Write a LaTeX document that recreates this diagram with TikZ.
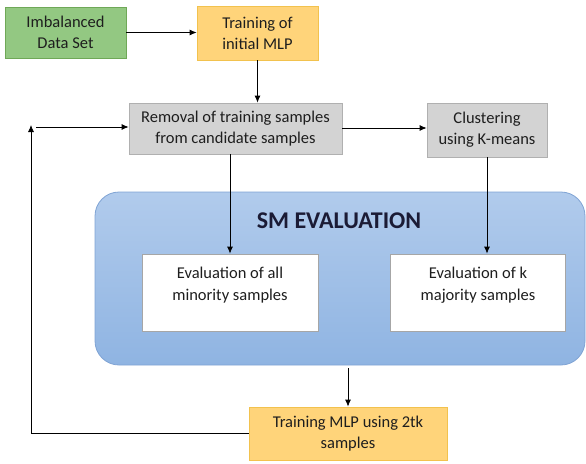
\documentclass[tikz,border=0pt]{standalone}
\usepackage{fontspec}
\setmainfont{Carlito}
\usetikzlibrary{arrows.meta}
\definecolor{grfill}{HTML}{93C882}
\definecolor{grdraw}{HTML}{6FA857}
\definecolor{orfill}{HTML}{FFD47A}
\definecolor{ordraw}{HTML}{F2C24E}
\definecolor{gyfill}{HTML}{D3D3D3}
\definecolor{gydraw}{HTML}{B0B0B0}
\definecolor{bltop}{HTML}{B1CBEC}
\definecolor{blbot}{HTML}{8FB4E2}
\definecolor{bldraw}{HTML}{7FA3D4}
\definecolor{txt}{HTML}{1E1E1E}
\tikzset{
  box/.style={rectangle, draw, line width=0.8pt, align=center, inner sep=0pt,
    text=txt, font=\fontsize{16.5}{21}\selectfont},
  greenbox/.style={box, fill=grfill, draw=grdraw},
  orangebox/.style={box, fill=orfill, draw=ordraw},
  graybox/.style={box, fill=gyfill, draw=gydraw},
  whitebox/.style={box, fill=white, draw=gray!70},
  conn/.style={line width=0.8pt, draw=black},
  arr/.style={conn, -{Latex[length=7pt,width=6pt]}},
  txtnode/.style={align=center, inner sep=0pt, text=txt, font=\fontsize{16.5}{22}\selectfont}
}
\begin{document}
\begin{tikzpicture}[x=1pt,y=-1pt]
\useasboundingbox (0,0) rectangle (586,463);
% SM evaluation container
\node[rectangle, rounded corners=24pt, minimum width=490pt, minimum height=173pt,
  top color=bltop, bottom color=blbot, draw=bldraw, line width=0.8pt, inner sep=0pt] (sm) at (340,278.5) {};
\node[font=\fontsize{24}{27}\bfseries\selectfont, text=txt!90!blue, inner sep=0pt] (smt) at (339,221) {SM EVALUATION};
% boxes
\node[greenbox, minimum width=121pt, minimum height=51pt] (imb) at (65.5,32.5) {Imbalanced\\Data Set};
\node[orangebox, minimum width=121pt, minimum height=54pt] (tri) at (257.5,33) {Training of\\initial MLP};
\node[graybox, minimum width=213pt, minimum height=51pt] (rem) at (235.5,128.5) {Removal of training samples\\from candidate samples};
\node[graybox, minimum width=120pt, minimum height=54pt] (clu) at (487,130) {Clustering\\using K-means};
\node[whitebox, minimum width=176pt, minimum height=77pt] (ev1) at (230,292.5) {};
\node[txtnode] (ev1t) at (230,285) {Evaluation of all\\minority samples};
\node[whitebox, minimum width=175pt, minimum height=77pt] (ev2) at (478,292.5) {};
\node[txtnode] (ev2t) at (478,285) {Evaluation of k\\majority samples};
\node[orangebox, minimum width=198pt, minimum height=53pt] (tr2) at (348,433.5) {Training MLP using 2tk\\samples};
% connectors
\coordinate (lb) at (31,433);
\coordinate (lt) at (31,125);
\coordinate (ls) at (36,127);
\draw[arr] (imb.east) -- (tri.west |- imb.east);
\draw[arr] (tri.south) -- (tri.south |- rem.north);
\draw[arr] (rem.east |- 0,128) -- (clu.west |- 0,128);
\draw[arr] (ev1.north |- rem.south) -- (ev1.north);
\draw[arr] (clu.south) -- (clu.south |- ev2.north);
\draw[arr] (tr2.north |- 0,368) -- (tr2.north);
\draw[arr] (tr2.west |- lb) -- (lb) -- (lt);
\draw[arr] (ls) -- (rem.west |- ls);
\end{tikzpicture}
\end{document}
